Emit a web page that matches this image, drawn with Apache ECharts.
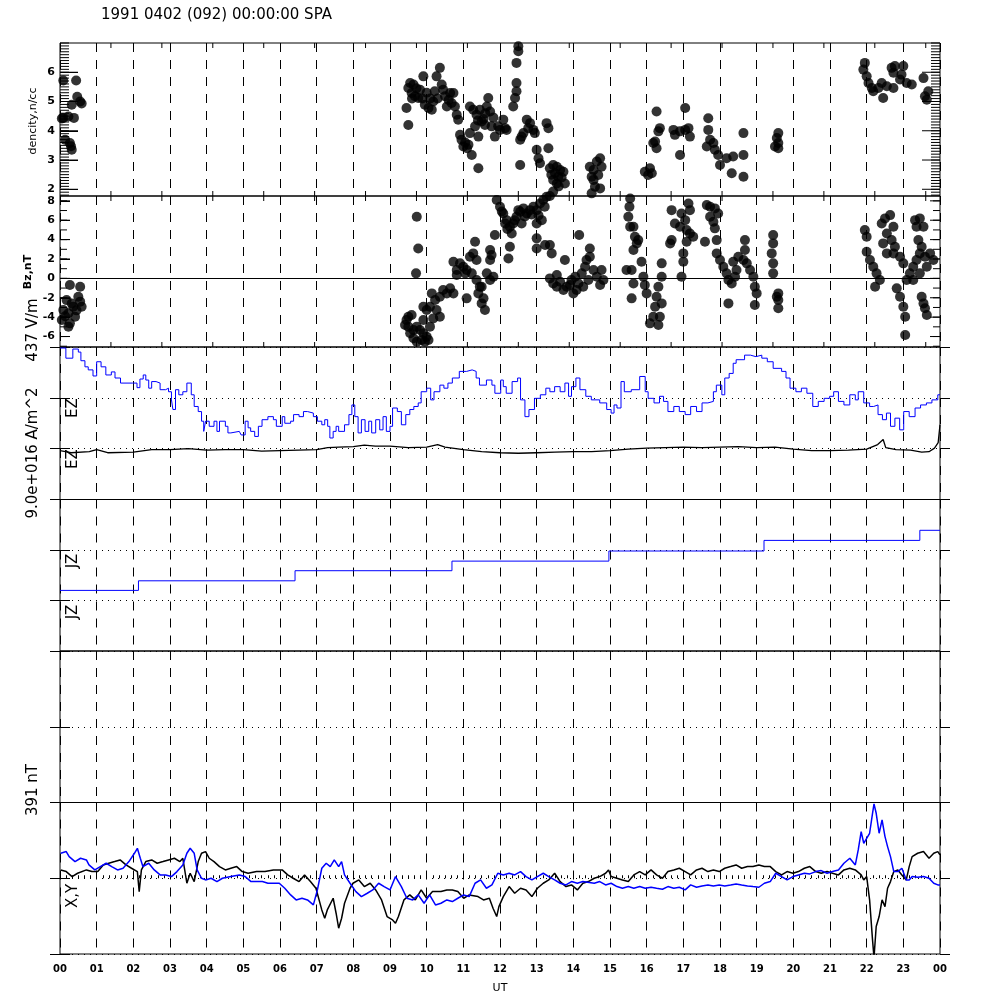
<!DOCTYPE html>
<html><head><meta charset="utf-8">
<script src="https://cdn.jsdelivr.net/npm/echarts@6/dist/echarts.min.js"></script>
<style>html,body{margin:0;padding:0;background:#fff}#c{width:1000px;height:1000px}</style>
</head><body><div id="c"></div>
<script>
const titleText = '1991 0402 (092) 00:00:00 SPA';
const hourLabels = ['00','01','02','03','04','05','06','07','08','09','10','11','12','13','14','15','16','17','18','19','20','21','22','23','00'];
const densityTicks = [2,3,4,5,6];
const bzTicks = [-6,-4,-2,0,2,4,6,8];

// density, n/cc  [UT hour, value]
const density = [
[0.09,5.72],[0.44,5.72],[0.47,5.16],[0.32,4.89],[0.59,4.93],[0.55,5.0],[0.09,4.44],[0.23,4.49],[0.38,4.44],[0.14,3.69],[0.27,3.58],[0.32,3.35],[0.30,3.47],[0.05,4.42],
[9.55,5.63],[9.64,5.58],[9.50,5.46],[9.45,4.78],[9.50,4.20],[9.59,5.29],[9.68,5.18],[9.82,5.40],[9.91,5.86],[9.77,5.12],[9.95,4.89],[10.05,4.78],[10.14,4.72],[10.18,5.00],[10.27,5.86],[10.36,6.15],[10.41,5.58],[10.45,5.40],[10.50,5.18],[10.55,4.83],[10.64,5.29],[10.73,5.29],[10.77,4.83],[10.82,4.55],[10.86,4.38],[10.91,3.86],[10.95,3.69],[11.0,3.46],[11.14,3.52],[11.18,3.92],[11.23,3.17],[11.18,4.83],[11.27,4.72],[11.32,4.15],[11.36,4.55],[11.41,3.80],[11.45,4.72],[11.50,4.32],[11.55,4.40],[11.59,4.20],[11.64,4.83],[11.68,5.12],[11.73,4.66],[11.77,4.15],[11.86,3.80],[11.95,4.15],[12.0,4.03],[12.09,4.38],[12.14,4.09],[12.18,4.03],[11.41,2.72],
[9.60,5.10],[9.72,5.45],[9.88,5.10],[10.0,5.30],[10.10,5.10],[10.22,5.35],[10.30,5.10],[10.60,5.05],[10.68,4.95],[11.05,3.60],[11.10,3.40],[11.40,4.35],[11.60,4.60],[11.82,4.45],
[12.50,6.89],[12.50,6.72],[12.45,6.32],[12.45,5.63],[12.45,5.35],[12.41,5.12],[12.36,4.83],
[12.55,3.69],[12.59,3.80],[12.64,3.92],[12.73,4.38],[12.77,4.09],[12.82,4.26],[12.91,4.03],[12.95,3.92],[13.27,4.26],[13.32,4.09],[12.55,2.83],[13.0,3.35],[13.05,3.06],[13.09,2.89],[13.32,3.40],
[13.36,2.72],[13.45,2.83],[13.55,2.77],[13.50,2.55],[13.59,2.43],[13.64,2.66],[13.73,2.60],[13.45,2.32],[13.55,2.20],[13.77,2.20],[13.45,1.92],[13.40,2.50],[13.68,2.40],[13.60,2.10],
[14.45,2.77],[14.55,2.66],[14.64,2.95],[14.73,3.06],[14.77,2.77],[14.68,2.49],[14.50,2.43],[14.59,2.09],[14.73,2.03],[14.50,1.86],[14.55,2.32],
[16.27,4.66],[16.36,4.09],[16.32,3.98],[16.18,3.58],[16.27,3.40],[16.23,3.63],[15.95,2.60],[16.09,2.72],[16.14,2.55],[16.04,2.49],
[16.73,4.03],[16.77,3.86],[16.91,3.17],[17.05,4.78],[17.05,4.03],[17.14,4.09],[17.18,3.80],[16.91,3.98],
[17.68,4.43],[17.68,4.03],[17.73,3.69],[17.64,3.46],[17.82,3.58],[17.86,3.35],[17.95,3.17],[18.0,2.83],[18.18,3.06],[18.36,3.12],[18.32,2.55],[18.64,2.43],[18.64,3.17],[18.64,3.92],
[19.59,3.92],[19.55,3.75],[19.59,3.58],[19.59,3.40],[19.5,3.46],
[21.95,6.32],[21.91,6.09],[22.0,5.86],[22.05,5.63],[22.14,5.46],[22.18,5.35],[22.45,5.12],[22.32,5.46],[22.41,5.63],[22.55,5.52],[22.73,5.46],[22.68,6.15],[22.73,5.98],[22.91,5.75],[22.77,6.21],[23.0,6.21],[22.95,5.92],[23.09,5.63],[23.23,5.58],[23.55,5.80],[23.68,5.35],[23.64,5.06],[23.59,5.18]
];

// Bz, nT
const bz = [
[0.27,-0.69],[0.55,-0.86],[0.59,-2.93],[0.50,-1.9],[0.18,-2.24],[0.09,-3.27],[0.23,-3.6],[0.36,-2.93],[0.41,-3.95],[0.27,-4.64],[0.23,-4.98],[0.05,-4.3],[0.55,-2.4],[0.32,-2.6],[0.14,-3.9],[0.45,-3.3],
[9.45,-4.30],[9.5,-4.98],[9.41,-4.81],[9.55,-5.67],[9.64,-5.33],[9.73,-4.98],[9.82,-5.33],[9.91,-5.67],[10.0,-6.01],[9.95,-6.53],[9.86,-6.36],[9.73,-6.53],[9.64,-6.18],[9.5,-3.95],[9.59,-3.78],[9.91,-4.30],[10.0,-3.27],[10.09,-2.92],[9.91,-2.92],[10.14,-1.55],[10.23,-2.23],[10.27,-3.27],[10.36,-1.89],[10.45,-1.20],[10.55,-1.55],[10.64,-1.03],[10.73,-1.55],[10.36,-3.95],[10.18,-4.13],[10.09,-4.98],[10.05,-6.36],
[9.73,6.36],[9.77,3.09],[9.71,0.52],
[10.73,1.72],[10.82,0.86],[10.91,1.55],[11.0,1.20],[11.09,0.86],[11.18,2.23],[11.27,2.58],[11.36,1.89],[11.32,3.78],[11.23,0.52],[11.36,-0.17],[11.45,-0.86],[11.41,-1.55],[11.5,-2.58],[11.59,-3.27],[11.55,-2.06],[11.5,-0.86],[11.64,0.52],[11.73,-0.17],[11.82,0.17],[11.73,1.89],[11.73,2.92],[11.77,2.40],[11.86,4.47],[11.09,-2.06],[11.05,0.52],[10.82,0.35],
[11.91,8.08],[12.0,7.39],[12.09,6.70],[12.18,6.01],[12.27,5.33],[12.32,4.64],[12.36,5.67],[12.45,6.36],[12.55,6.88],[12.64,7.22],[12.73,6.70],[12.82,7.04],[12.91,7.39],[13.0,7.04],[13.09,7.73],[13.18,8.08],[13.27,8.42],[13.36,8.5],[13.14,6.01],[13.0,5.67],[12.27,3.26],[12.23,2.06],[12.5,7.04],[12.59,5.67],[12.14,5.67],
[12.40,6.00],[12.68,6.40],[12.86,6.60],[13.05,6.50],[13.22,7.40],[12.05,6.90],[12.20,5.10],
[13.0,4.13],[13.0,3.09],[13.23,3.44],[13.36,3.44],[13.41,2.58],[13.77,1.89],[14.16,4.47],
[13.36,0.0],[13.45,-0.52],[13.55,-0.86],[13.64,-0.35],[13.73,-1.20],[13.82,-0.86],[13.91,-0.69],[14.0,-1.55],[14.09,-1.20],[14.14,-0.52],[14.23,0.52],[14.32,1.20],[14.36,1.89],[14.45,3.09],[14.45,2.23],[14.55,0.86],[14.64,0.17],[14.77,0.86],[14.82,-0.17],[14.73,-0.69],[14.41,-0.17],[14.05,0.17],[13.95,-0.17],[13.55,0.35],[14.27,-0.86],
[15.55,8.25],[15.53,7.39],[15.50,6.36],[15.55,5.33],[15.64,5.33],[15.68,4.30],[15.73,3.61],[15.64,2.92],[15.77,3.95],[15.86,1.72],[15.59,0.86],[15.45,0.86],[15.64,-0.52],[15.59,-2.06],[15.91,0.17],[15.95,-0.69],[16.0,-1.55],
[16.41,1.55],[16.41,0.17],[16.32,-0.86],[16.27,-1.89],[16.23,-2.92],[16.18,-3.95],[16.09,-4.64],[16.32,-4.81],[16.36,-3.95],[16.41,-2.58],
[16.68,7.04],[16.77,5.67],[16.91,5.33],[17.09,4.98],[17.18,4.64],[17.27,4.30],[16.68,3.95],[16.64,3.61],[16.95,6.70],[17.14,7.73],[17.18,7.04],[17.05,6.01],[17.0,2.58],[17.0,1.72],[16.95,0.17],[17.09,3.78],
[17.64,7.56],[17.73,7.39],[17.86,7.22],[17.95,6.70],[17.73,6.36],[17.82,5.84],[17.86,5.16],[17.91,3.95],[17.59,3.78],[17.91,2.58],[18.0,1.89],[18.09,1.20],[18.18,0.52],[18.23,-0.17],[18.32,-0.52],[18.41,0.17],[18.45,0.86],[18.36,1.72],[18.5,2.23],[18.64,1.89],[18.73,1.55],[18.82,0.86],[18.91,0.17],[18.95,-0.86],[19.0,-1.55],[18.95,-2.75],[18.23,-2.58],[18.68,3.95],[18.68,2.92],
[19.45,4.47],[19.45,3.61],[19.41,2.58],[19.45,1.55],[19.45,0.52],[19.59,-1.55],[19.59,-2.23],[19.59,-3.09],[19.55,-1.89],
[21.95,4.98],[22.0,4.30],[22.0,2.75],[22.09,1.89],[22.18,1.20],[22.27,0.52],[22.36,-0.17],[22.23,-0.86],[22.41,5.67],[22.5,6.19],[22.64,6.53],[22.55,4.64],[22.73,5.33],[22.68,3.95],[22.77,3.26],[22.91,2.23],[23.0,1.55],[22.73,2.58],[22.45,3.61],[22.55,2.58],
[22.82,-1.03],[22.91,-1.89],[23.0,-2.92],[23.05,-3.95],[23.05,-5.84],[23.09,-0.17],[23.18,0.52],[23.27,1.20],[23.36,1.89],[23.45,2.58],[23.5,3.26],[23.59,2.23],[23.73,2.58],[23.82,1.89],[23.64,1.20],[23.45,0.52],[23.32,6.01],[23.36,5.33],[23.41,3.95],[23.27,-0.17],[23.5,-1.89],[23.55,-2.58],[23.59,-3.09],[23.64,-3.78],[23.55,5.33],[23.45,6.19]
];

// EZ panel (baseline units: blue trace offset 1, black trace offset 0)
const ezBlue = [
[0.00,1.98],[0.16,1.78],[0.35,1.96],[0.50,1.90],[0.57,1.73],[0.68,1.61],[0.77,1.55],[0.90,1.43],[1.00,1.71],[1.12,1.61],[1.25,1.45],[1.40,1.51],[1.50,1.39],[1.65,1.29],[1.98,1.29],[2.10,1.20],[2.18,1.37],[2.27,1.45],
[2.34,1.35],[2.42,1.19],[2.50,1.32],[2.62,1.29],[2.73,1.16],[2.88,1.19],[2.96,1.12],[3.04,0.96],[3.08,0.77],[3.15,1.16],[3.24,1.06],[3.35,1.12],[3.46,1.29],[3.58,1.06],[3.66,0.83],[3.77,0.73],[3.86,0.54],[3.92,0.34],[3.97,0.54],[4.07,0.44],[4.20,0.54],[4.28,0.34],[4.35,0.54],[4.51,0.44],[4.58,0.31],[4.66,0.34],[4.89,0.34],[4.94,0.27],[5.05,0.54],[5.13,0.41],[5.20,0.34],[5.31,0.24],[5.41,0.44],[5.51,0.57],[5.67,0.63],[5.82,0.57],[5.90,0.44],[6.06,0.63],[6.13,0.50],[6.29,0.54],[6.37,0.67],[6.52,0.63],[6.64,0.73],[6.75,0.70],[6.91,0.63],[7.02,0.54],[7.14,0.47],[7.22,0.57],[7.30,0.44],[7.36,0.21],[7.45,0.34],[7.53,0.44],[7.60,0.34],[7.76,0.47],[7.88,0.67],[7.96,0.86],[8.04,0.63],[8.13,0.31],[8.22,0.57],[8.32,0.34],[8.42,0.54],[8.50,0.31],[8.61,0.57],[8.72,0.37],[8.81,0.63],[8.90,0.34],[9.00,0.44],[9.07,0.80],[9.20,0.73],[9.31,0.47],[9.43,0.67],[9.54,0.77],[9.65,0.83],[9.77,0.90],[9.85,1.12],[10.00,1.19],[10.11,0.96],[10.20,1.12],[10.36,1.25],[10.47,1.19],[10.58,1.29],[10.70,1.39],[10.89,1.52],[11.09,1.55],[11.24,1.52],[11.35,1.39],[11.44,1.25],[11.63,1.35],[11.78,1.25],[11.86,1.09],[12.02,1.35],[12.09,1.22],[12.17,1.09],[12.33,1.32],[12.48,1.39],[12.56,0.96],[12.68,0.63],[12.79,0.77],[12.94,0.99],[13.10,1.06],[13.25,1.19],[13.36,1.12],[13.49,1.22],[13.64,1.12],[13.77,1.29],[13.87,1.03],[13.95,1.22],[14.07,1.39],[14.18,1.16],[14.34,1.03],[14.49,0.96],[14.72,0.90],[14.91,0.77],[15.03,0.70],[15.11,0.86],[15.19,0.80],[15.30,1.32],[15.39,1.12],[15.58,1.16],[15.81,1.42],[15.96,1.12],[16.04,0.99],[16.20,0.90],[16.35,1.03],[16.46,0.93],[16.58,0.73],[16.74,0.83],[16.89,0.73],[17.05,0.67],[17.20,0.83],[17.36,0.73],[17.51,0.90],[17.67,0.93],[17.82,1.12],[17.90,1.25],[18.05,1.06],[18.13,1.39],[18.25,1.48],[18.36,1.68],[18.44,1.75],[18.67,1.84],[18.83,1.81],[18.98,1.84],[19.14,1.78],[19.29,1.71],[19.45,1.58],[19.68,1.52],[19.80,1.39],[19.91,1.19],[20.07,1.12],[20.22,1.19],[20.37,1.09],[20.53,0.83],[20.68,0.93],[20.84,0.99],[20.99,1.03],[21.10,1.12],[21.23,0.93],[21.38,0.86],[21.54,1.06],[21.69,0.96],[21.77,1.12],[21.92,0.90],[22.08,0.83],[22.19,0.86],[22.31,0.67],[22.43,0.57],[22.54,0.70],[22.65,0.44],[22.77,0.60],[22.90,0.37],[23.01,0.73],[23.16,0.63],[23.32,0.80],[23.47,0.86],[23.63,0.90],[23.78,0.96],[23.94,1.06],[24.0,1.06]
];
const ezBlack = [
[0,-0.04],[0.3,-0.08],[0.8,-0.06],[1.0,-0.02],[1.3,-0.08],[2.0,-0.07],[2.5,-0.02],[3.0,-0.02],[3.5,0.00],[4.0,-0.03],[4.5,-0.02],[5.0,-0.02],[5.5,-0.05],[6.0,-0.04],[6.5,-0.03],[7.0,-0.02],[7.3,0.02],[7.6,0.03],[8.0,0.04],[8.3,0.07],[8.6,0.05],[9.0,0.05],[9.5,0.02],[10.0,0.03],[10.3,0.08],[10.5,0.03],[11.0,-0.02],[11.5,-0.06],[12.0,-0.08],[12.5,-0.09],[13.0,-0.08],[13.5,-0.07],[14.0,-0.06],[14.5,-0.06],[15.0,-0.04],[15.5,-0.01],[16.0,0.01],[16.5,0.02],[17.0,0.03],[17.5,0.02],[18.0,0.03],[18.5,0.04],[19.0,0.02],[19.5,0.03],[20.0,-0.01],[20.5,-0.04],[21.0,-0.04],[21.5,-0.03],[22.0,-0.01],[22.3,0.08],[22.45,0.18],[22.52,0.02],[22.8,-0.02],[23.2,-0.03],[23.5,-0.07],[23.7,-0.06],[23.85,0.01],[23.95,0.12],[24,0.47]
];
// JZ panel
const jzBlue = [[0,0.2],[2.14,0.39],[6.41,0.59],[10.69,0.78],[14.97,0.98],[19.2,1.19],[23.45,1.39],[24,1.39]];

// X, Y magnetic components, nT (391 nT full panel)
const xyBlack = [
[0.02,21.5],[0.17,17.2],[0.33,4.3],[0.48,12.9],[0.72,21.5],[0.87,17.2],[1.03,17.2],[1.18,34.4],[1.33,38.7],[1.49,43],[1.64,47.3],[1.80,34.4],[1.95,25.8],[2.11,17.2],[2.16,-34.4],[2.22,21.5],[2.34,43],[2.50,47.3],[2.65,38.7],[2.81,43],[2.96,47.3],[3.12,51.6],[3.27,43],[3.35,51.6],[3.46,-12.9],[3.55,12.9],[3.66,-8.6],[3.77,43],[3.86,64.5],[3.97,68.8],[4.07,51.6],[4.20,43],[4.35,30.1],[4.51,21.5],[4.66,25.8],[4.82,30.1],[4.97,17.2],[5.13,12.9],[5.36,17.2],[5.59,17.2],[5.82,21.5],[6.06,21.5],[6.21,8.6],[6.36,0],[6.52,-8.6],[6.67,8.6],[6.83,-8.6],[6.98,-25.8],[7.14,-81.7],[7.22,-103.2],[7.29,-81.7],[7.45,-51.6],[7.53,-90.3],[7.60,-129],[7.68,-103.2],[7.76,-64.5],[7.91,-25.8],[7.99,-12.9],[8.15,-4.3],[8.30,-21.5],[8.46,-12.9],[8.61,-30.1],[8.77,-55.9],[8.92,-98.9],[9.07,-107.5],[9.15,-116.1],[9.23,-98.9],[9.38,-55.9],[9.54,-43],[9.69,-55.9],[9.85,-30.1],[10.00,-51.6],[10.16,-34.4],[10.39,-34.4],[10.55,-30.1],[10.70,-30.1],[10.85,-34.4],[11.01,-51.6],[11.16,-43],[11.40,-47.3],[11.55,-55.9],[11.71,-51.6],[11.81,-77.4],[11.91,-98.9],[11.97,-73.1],[12.09,-47.3],[12.25,-21.5],[12.40,-38.7],[12.56,-25.8],[12.71,-30.1],[12.87,-47.3],[13.02,-25.8],[13.18,-12.9],[13.33,-4.3],[13.49,12.9],[13.64,-8.6],[13.80,-21.5],[13.95,-17.2],[14.11,-30.1],[14.26,-12.9],[14.41,-8.6],[14.57,0],[14.72,4.3],[14.88,12.9],[14.96,21.5],[15.03,4.3],[15.19,0],[15.34,-4.3],[15.50,-8.6],[15.65,8.6],[15.81,17.2],[15.96,8.6],[16.12,21.5],[16.27,8.6],[16.43,0],[16.58,17.2],[16.74,21.5],[16.89,25.8],[17.05,17.2],[17.20,8.6],[17.36,21.5],[17.51,25.8],[17.67,17.2],[17.82,21.5],[17.98,17.2],[18.13,25.8],[18.29,30.1],[18.44,34.4],[18.59,25.8],[18.75,30.1],[18.90,30.1],[19.06,34.4],[19.21,30.1],[19.37,30.1],[19.52,17.2],[19.68,8.6],[19.83,17.2],[19.99,12.9],[20.14,17.2],[20.30,25.8],[20.45,30.1],[20.61,17.2],[20.76,12.9],[20.92,17.2],[21.07,12.9],[21.23,8.6],[21.38,21.5],[21.54,25.8],[21.69,21.5],[21.85,8.6],[21.92,-4.3],[22.00,4.3],[22.08,-55.9],[22.16,-159],[22.20,-205],[22.26,-124.7],[22.34,-98.9],[22.42,-55.9],[22.50,-73.1],[22.57,-25.8],[22.65,-8.6],[22.74,17.2],[22.85,21.5],[22.96,8.6],[23.08,-4.3],[23.16,30.1],[23.24,55.9],[23.39,64.5],[23.55,68.8],[23.70,51.6],[23.83,64.5],[23.94,68.8],[24.0,60.2]
];
const xyBlue = [
[0.02,64.5],[0.17,68.8],[0.25,55.9],[0.41,43],[0.56,51.6],[0.72,47.3],[0.79,34.4],[0.95,21.5],[1.10,30.1],[1.26,38.7],[1.41,30.1],[1.57,21.5],[1.72,25.8],[1.88,43],[2.03,64.5],[2.11,77.4],[2.19,51.6],[2.26,30.1],[2.42,38.7],[2.57,21.5],[2.73,8.6],[2.88,8.6],[3.04,4.3],[3.19,17.2],[3.35,34.4],[3.46,64.5],[3.55,77.4],[3.66,64.5],[3.74,21.5],[3.86,0],[3.97,-4.3],[4.12,0],[4.28,-8.6],[4.43,0],[4.66,4.3],[4.89,8.6],[5.05,4.3],[5.21,-8.6],[5.52,-8.6],[5.67,-12.9],[5.98,-12.9],[6.13,-25.8],[6.29,-43],[6.44,-55.9],[6.60,-51.6],[6.75,-55.9],[6.91,-68.8],[7.02,-30.1],[7.14,25.8],[7.26,38.7],[7.37,30.1],[7.48,47.3],[7.60,30.1],[7.68,43],[7.76,8.6],[7.91,-12.9],[8.07,-34.4],[8.22,-47.3],[8.38,-38.7],[8.53,-30.1],[8.69,-12.9],[8.84,-21.5],[9.00,-30.1],[9.15,4.3],[9.31,-21.5],[9.46,-51.6],[9.62,-55.9],[9.77,-43],[9.93,-64.5],[10.08,-43],[10.24,-68.8],[10.39,-64.5],[10.55,-55.9],[10.70,-60.2],[10.85,-51.6],[11.01,-43],[11.16,-47.3],[11.32,-12.9],[11.47,-4.3],[11.63,-25.8],[11.78,-17.2],[11.94,12.9],[12.09,8.6],[12.25,12.9],[12.40,8.6],[12.56,17.2],[12.71,4.3],[12.87,-4.3],[13.02,4.3],[13.18,12.9],[13.33,4.3],[13.49,-4.3],[13.64,-12.9],[13.80,-17.2],[13.95,-8.6],[14.11,-12.9],[14.26,-8.6],[14.57,-12.9],[14.72,-8.6],[14.88,-17.2],[15.03,-12.9],[15.19,-21.5],[15.34,-25.8],[15.50,-21.5],[15.65,-25.8],[15.81,-21.5],[15.96,-25.8],[16.12,-23.2],[16.27,-25.8],[16.43,-28.4],[16.58,-21.5],[16.74,-25.8],[16.89,-23.2],[17.05,-30.1],[17.20,-17.2],[17.36,-23.2],[17.51,-19.8],[17.67,-17.2],[17.82,-19.8],[17.98,-17.2],[18.13,-19.8],[18.29,-17.2],[18.44,-14.6],[18.59,-17.2],[18.75,-19.8],[18.90,-21.5],[19.06,-23.2],[19.21,-12.9],[19.37,-8.6],[19.52,12.9],[19.68,4.3],[19.83,-4.3],[19.99,4.3],[20.14,8.6],[20.30,12.9],[20.45,11.2],[20.61,17.2],[20.76,19.8],[20.92,12.9],[21.07,17.2],[21.23,21.5],[21.38,38.7],[21.54,51.6],[21.69,34.4],[21.77,73.1],[21.85,120.4],[21.92,90.3],[22.00,103.2],[22.08,116.1],[22.16,167.7],[22.20,191.8],[22.26,167.7],[22.34,116.1],[22.42,150.5],[22.50,107.5],[22.57,81.7],[22.65,55.9],[22.74,17.2],[22.85,17.2],[22.96,25.8],[23.08,-4.3],[23.16,-4.3],[23.24,4.3],[23.39,2.6],[23.55,4.3],[23.70,0],[23.83,-12.9],[23.94,-17.2],[24.0,-17.2]
];

const FONT = 'DejaVu Sans';
const LEFT = 60, WIDTH = 880;
const tops = [43, 196, 347, 499.5, 651, 802.5, 954];
const BLACK = '#000', BLUE = '#0000ff';
const yRanges = [[1.77, 7.0], [-7.08, 8.5], [-1, 2, 1], [-1, 2, 1], [-1, 1, 1], [-195.5, 195.5, 195.5]];

function range(a, b, step) { const r = []; for (let k = Math.round(a/step); k*step <= b + 1e-9; k++) r.push(+(k*step).toFixed(3)); return r; }
const densMinor = range(1.8, 7.0, 0.1);
const bzMinor = range(-7, 8, 1);
const sec5000 = range(0, 24, 5000 / 3600).filter(h => h > 0 && h < 24);

const grids = [], xAxes = [], yAxes = [], mainY = [];
for (let i = 0; i < 6; i++) {
  grids.push({left: LEFT, width: WIDTH, top: tops[i], height: tops[i+1] - tops[i], show: true,
    borderColor: BLACK, borderWidth: 1, backgroundColor: 'rgba(0,0,0,0)'});
  xAxes.push({gridIndex: i, type: 'value', min: 0, max: 24, interval: 1, position: 'bottom',
    axisLine: {show: false},
    axisTick: {show: i === 5, inside: true, length: 7, lineStyle: {color: BLACK}},
    minorTick: {show: i === 5, splitNumber: 6, length: 3, lineStyle: {color: BLACK}},
    axisLabel: {show: i === 5, showMinLabel: true, showMaxLabel: true, formatter: v => hourLabels[Math.round(v)],
      fontFamily: FONT, fontWeight: 'bold', fontSize: 10, color: BLACK, margin: 10},
    splitLine: {show: true, lineStyle: {color: BLACK, width: 1, type: [9, 8]}}});
}
function tickAxis(grid, pos, values, len, inside, labels) {
  const r = yRanges[grid];
  const ax = {gridIndex: grid, type: 'value', min: r[0], max: r[1], position: pos, axisLine: {show: false},
    axisTick: {show: true, inside: inside, length: len, lineStyle: {color: BLACK}},
    axisLabel: {show: false}, splitLine: {show: false}};
  if (values) ax.axisTick.customValues = values; else ax.interval = r[2];
  if (labels) ax.axisLabel = {show: true, customValues: labels, fontFamily: FONT, fontWeight: 'bold', fontSize: 11, color: BLACK, margin: 5};
  yAxes.push(ax);
  return yAxes.length - 1;
}
mainY[0] = tickAxis(0, 'left', densityTicks, 18, true, densityTicks);
mainY[1] = tickAxis(1, 'left', bzTicks, 10, true, bzTicks);
for (let i = 2; i < 6; i++) {
  mainY[i] = tickAxis(i, 'left', null, 10, true);
  yAxes[mainY[i]].splitLine = {show: true, lineStyle: {color: BLACK, width: 1, type: [1, 5]}};
  tickAxis(i, 'left', null, 10, false);
  tickAxis(i, 'right', null, 10, false);
}

function lineSeries(grid, data, color, width, step) {
  return {type: 'line', xAxisIndex: grid, yAxisIndex: mainY[grid], data: data, step: step || false,
    showSymbol: false, symbol: 'none', lineStyle: {color: color, width: width}, itemStyle: {color: color},
    clip: false, silent: true, z: 3};
}

// tick marks for the two scatter panels, drawn as short line segments in data space
const HOUR_PER_PX = 24 / WIDTH;
function tickSegments(grid) {
  const r = yRanges[grid], h = tops[grid + 1] - tops[grid];
  const unitPerPx = (r[1] - r[0]) / h;
  const segs = [];
  function yt(values, lenPx) {
    const d = lenPx * HOUR_PER_PX;
    values.forEach(v => { segs.push([0, v], [d, v], null, [24 - d, v], [24, v], null); });
  }
  if (grid === 0) { yt(densMinor, 9); yt(densityTicks, 18); }
  else { yt(bzMinor, 7); yt(bzTicks, 10); }
  const dy = 5 * unitPerPx;
  sec5000.forEach(t => { segs.push([t, r[1]], [t, r[1] - dy], null, [t, r[0]], [t, r[0] + dy], null); });
  return {type: 'line', xAxisIndex: grid, yAxisIndex: mainY[grid], data: segs, connectNulls: false,
    showSymbol: false, symbol: 'none', lineStyle: {color: BLACK, width: 1}, clip: false, silent: true, z: 10};
}

const series = [
  {type: 'scatter', xAxisIndex: 0, yAxisIndex: mainY[0], data: density, symbol: 'circle', symbolSize: 10,
    itemStyle: {color: BLACK}, silent: true, clip: true},
  {type: 'scatter', xAxisIndex: 1, yAxisIndex: mainY[1], data: bz, symbol: 'circle', symbolSize: 10,
    itemStyle: {color: BLACK}, silent: true, clip: true,
    markLine: {silent: true, symbol: ['none', 'none'], label: {show: false},
      lineStyle: {color: BLACK, width: 1, type: 'solid'}, data: [{yAxis: 0}]}},
  lineSeries(2, ezBlue, BLUE, 1, 'end'),
  lineSeries(2, ezBlack, BLACK, 1.3, false),
  lineSeries(3, jzBlue, BLUE, 1, 'end'),
  lineSeries(5, xyBlack, BLACK, 1.5, false),
  lineSeries(5, xyBlue, BLUE, 1.5, false),
  tickSegments(0),
  tickSegments(1)
];
series[5].clip = true; series[6].clip = true;

function rotText(txt, x, y, size, weight) {
  return {type: 'text', x: x, y: y, rotation: Math.PI / 2,
    style: {text: txt, fill: BLACK, font: (weight || 'normal') + ' ' + size + 'px "' + FONT + '"',
      align: 'center', verticalAlign: 'middle', textAlign: 'center', textVerticalAlign: 'middle'}};
}
const textGraphics = [
  {type: 'text', x: 101, y: 15,
    style: {text: titleText, fill: BLACK, font: '15px "' + FONT + '"', align: 'left', verticalAlign: 'middle', textAlign: 'left', textVerticalAlign: 'middle'}},
  rotText('dencity,n/cc', 33, 121, 11),
  rotText('Bz,nT', 28, 272, 11, 'bold'),
  rotText('437 V/m', 33, 330, 15),
  rotText('9.0e+016 A/m^2', 33, 453, 15),
  rotText('391 nT', 33, 790, 15),
  rotText('EZ', 73, 408, 15),
  rotText('EZ', 73, 459, 15),
  rotText('JZ', 73, 561, 15),
  rotText('JZ', 73, 612, 15),
  rotText('X,Y', 73, 896, 15),
  {type: 'text', x: 500, y: 988,
    style: {text: 'UT', fill: BLACK, font: '11px "' + FONT + '"', align: 'center', verticalAlign: 'middle', textAlign: 'center', textVerticalAlign: 'middle'}}
];

const chart = echarts.init(document.getElementById('c'), null, {width: 1000, height: 1000});
chart.setOption({animation: false, backgroundColor: '#fff', grid: grids, xAxis: xAxes, yAxis: yAxes, series: series,
  graphic: {elements: textGraphics}});
</script></body></html>
